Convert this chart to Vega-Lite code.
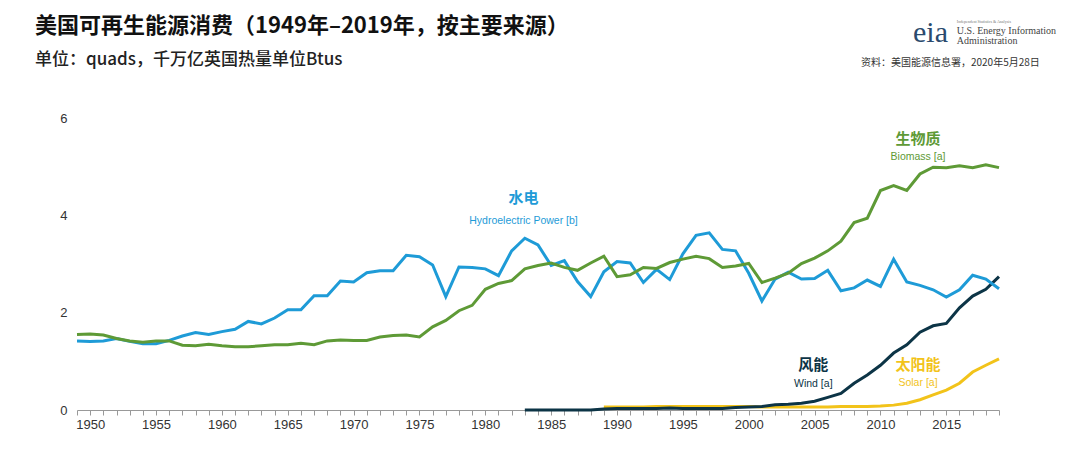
{
  "$schema": "https://vega.github.io/schema/vega-lite/v6.json",
  "width": 922,
  "height": 292,
  "autosize": {"type": "none"},
  "padding": {"left": 77, "top": 118, "right": 81, "bottom": 56},
  "background": "white",
  "config": {"view": {"stroke": null}},
  "title": {
    "text": "美国可再生能源消费（1949年–2019年，按主要来源）",
    "subtitle": "单位：quads，千万亿英国热量单位Btus",
    "anchor": "start",
    "frame": "group",
    "dx": -42,
    "offset": -51,
    "font": "Noto Sans CJK SC",
    "fontSize": 22,
    "fontWeight": "bold",
    "color": "#111111",
    "subtitleFont": "Noto Sans CJK SC",
    "subtitleFontSize": 17,
    "subtitleFontWeight": 500,
    "subtitleColor": "#222222",
    "subtitlePadding": 14
  },
  "datasets": {
    "energy": [
      {"year":1949,"hydro":1.42,"biomass":1.55,"wind":null,"solar":null},
      {"year":1950,"hydro":1.41,"biomass":1.56,"wind":null,"solar":null},
      {"year":1951,"hydro":1.42,"biomass":1.54,"wind":null,"solar":null},
      {"year":1952,"hydro":1.47,"biomass":1.47,"wind":null,"solar":null},
      {"year":1953,"hydro":1.41,"biomass":1.42,"wind":null,"solar":null},
      {"year":1954,"hydro":1.36,"biomass":1.39,"wind":null,"solar":null},
      {"year":1955,"hydro":1.36,"biomass":1.42,"wind":null,"solar":null},
      {"year":1956,"hydro":1.43,"biomass":1.42,"wind":null,"solar":null},
      {"year":1957,"hydro":1.52,"biomass":1.33,"wind":null,"solar":null},
      {"year":1958,"hydro":1.59,"biomass":1.32,"wind":null,"solar":null},
      {"year":1959,"hydro":1.55,"biomass":1.35,"wind":null,"solar":null},
      {"year":1960,"hydro":1.61,"biomass":1.32,"wind":null,"solar":null},
      {"year":1961,"hydro":1.66,"biomass":1.30,"wind":null,"solar":null},
      {"year":1962,"hydro":1.82,"biomass":1.30,"wind":null,"solar":null},
      {"year":1963,"hydro":1.77,"biomass":1.32,"wind":null,"solar":null},
      {"year":1964,"hydro":1.89,"biomass":1.34,"wind":null,"solar":null},
      {"year":1965,"hydro":2.06,"biomass":1.34,"wind":null,"solar":null},
      {"year":1966,"hydro":2.06,"biomass":1.37,"wind":null,"solar":null},
      {"year":1967,"hydro":2.35,"biomass":1.34,"wind":null,"solar":null},
      {"year":1968,"hydro":2.35,"biomass":1.42,"wind":null,"solar":null},
      {"year":1969,"hydro":2.65,"biomass":1.44,"wind":null,"solar":null},
      {"year":1970,"hydro":2.63,"biomass":1.43,"wind":null,"solar":null},
      {"year":1971,"hydro":2.82,"biomass":1.43,"wind":null,"solar":null},
      {"year":1972,"hydro":2.86,"biomass":1.50,"wind":null,"solar":null},
      {"year":1973,"hydro":2.86,"biomass":1.53,"wind":null,"solar":null},
      {"year":1974,"hydro":3.18,"biomass":1.54,"wind":null,"solar":null},
      {"year":1975,"hydro":3.15,"biomass":1.50,"wind":null,"solar":null},
      {"year":1976,"hydro":2.98,"biomass":1.71,"wind":null,"solar":null},
      {"year":1977,"hydro":2.33,"biomass":1.84,"wind":null,"solar":null},
      {"year":1978,"hydro":2.94,"biomass":2.04,"wind":null,"solar":null},
      {"year":1979,"hydro":2.93,"biomass":2.15,"wind":null,"solar":null},
      {"year":1980,"hydro":2.90,"biomass":2.48,"wind":null,"solar":null},
      {"year":1981,"hydro":2.76,"biomass":2.60,"wind":null,"solar":null},
      {"year":1982,"hydro":3.27,"biomass":2.66,"wind":null,"solar":null},
      {"year":1983,"hydro":3.53,"biomass":2.90,"wind":0.0,"solar":null},
      {"year":1984,"hydro":3.39,"biomass":2.97,"wind":0.0,"solar":null},
      {"year":1985,"hydro":2.97,"biomass":3.02,"wind":0.0,"solar":null},
      {"year":1986,"hydro":3.07,"biomass":2.93,"wind":0.0,"solar":null},
      {"year":1987,"hydro":2.64,"biomass":2.87,"wind":0.0,"solar":null},
      {"year":1988,"hydro":2.33,"biomass":3.02,"wind":0.0,"solar":null},
      {"year":1989,"hydro":2.84,"biomass":3.16,"wind":0.02,"solar":0.06},
      {"year":1990,"hydro":3.05,"biomass":2.74,"wind":0.03,"solar":0.06},
      {"year":1991,"hydro":3.02,"biomass":2.78,"wind":0.03,"solar":0.06},
      {"year":1992,"hydro":2.62,"biomass":2.93,"wind":0.03,"solar":0.06},
      {"year":1993,"hydro":2.89,"biomass":2.91,"wind":0.03,"solar":0.07},
      {"year":1994,"hydro":2.68,"biomass":3.03,"wind":0.04,"solar":0.07},
      {"year":1995,"hydro":3.21,"biomass":3.10,"wind":0.03,"solar":0.07},
      {"year":1996,"hydro":3.59,"biomass":3.16,"wind":0.03,"solar":0.07},
      {"year":1997,"hydro":3.64,"biomass":3.11,"wind":0.03,"solar":0.07},
      {"year":1998,"hydro":3.30,"biomass":2.93,"wind":0.03,"solar":0.07},
      {"year":1999,"hydro":3.27,"biomass":2.96,"wind":0.05,"solar":0.07},
      {"year":2000,"hydro":2.81,"biomass":3.01,"wind":0.06,"solar":0.07},
      {"year":2001,"hydro":2.24,"biomass":2.62,"wind":0.07,"solar":0.06},
      {"year":2002,"hydro":2.69,"biomass":2.71,"wind":0.11,"solar":0.06},
      {"year":2003,"hydro":2.83,"biomass":2.81,"wind":0.12,"solar":0.06},
      {"year":2004,"hydro":2.69,"biomass":3.01,"wind":0.14,"solar":0.06},
      {"year":2005,"hydro":2.70,"biomass":3.12,"wind":0.18,"solar":0.06},
      {"year":2006,"hydro":2.87,"biomass":3.27,"wind":0.26,"solar":0.06},
      {"year":2007,"hydro":2.45,"biomass":3.47,"wind":0.34,"solar":0.07},
      {"year":2008,"hydro":2.51,"biomass":3.85,"wind":0.55,"solar":0.07},
      {"year":2009,"hydro":2.67,"biomass":3.94,"wind":0.72,"solar":0.07},
      {"year":2010,"hydro":2.54,"biomass":4.51,"wind":0.92,"solar":0.08},
      {"year":2011,"hydro":3.10,"biomass":4.61,"wind":1.17,"solar":0.10},
      {"year":2012,"hydro":2.63,"biomass":4.51,"wind":1.34,"solar":0.14},
      {"year":2013,"hydro":2.56,"biomass":4.85,"wind":1.60,"solar":0.21},
      {"year":2014,"hydro":2.47,"biomass":4.99,"wind":1.73,"solar":0.31},
      {"year":2015,"hydro":2.32,"biomass":4.98,"wind":1.78,"solar":0.41},
      {"year":2016,"hydro":2.47,"biomass":5.02,"wind":2.10,"solar":0.55},
      {"year":2017,"hydro":2.77,"biomass":4.98,"wind":2.34,"solar":0.78},
      {"year":2018,"hydro":2.69,"biomass":5.04,"wind":2.48,"solar":0.92},
      {"year":2019,"hydro":2.49,"biomass":4.98,"wind":2.74,"solar":1.05}
    ],
    "labels": [
      {"series":"hydro","year":1982.9,"value":4.36,"name":"水电","sub":"Hydroelectric Power [b]","subValue":3.88},
      {"series":"biomass","year":2012.85,"value":5.57,"name":"生物质","sub":"Biomass [a]","subValue":5.2},
      {"series":"wind","year":2004.9,"value":0.92,"name":"风能","sub":"Wind [a]","subValue":0.53},
      {"series":"solar","year":2012.85,"value":0.92,"name":"太阳能","sub":"Solar [a]","subValue":0.55}
    ]
  },
  "layer": [
    {
      "data": {"name": "energy"},
      "mark": {"type": "line", "color": "#f2c31a", "strokeWidth": 3},
      "encoding": {
        "x": {
          "field": "year", "type": "quantitative",
          "scale": {"domain": [1949, 2019], "nice": false, "zero": false},
          "axis": {
            "title": null,
            "grid": false,
            "values": [1949,1950,1951,1952,1953,1954,1955,1956,1957,1958,1959,1960,1961,1962,1963,1964,1965,1966,1967,1968,1969,1970,1971,1972,1973,1974,1975,1976,1977,1978,1979,1980,1981,1982,1983,1984,1985,1986,1987,1988,1989,1990,1991,1992,1993,1994,1995,1996,1997,1998,1999,2000,2001,2002,2003,2004,2005,2006,2007,2008,2009,2010,2011,2012,2013,2014,2015,2016,2017,2018,2019],
            "tickCount": 200,
            "format": "d",
            "labelExpr": "datum.value % 5 == 0 ? datum.label : ''",
            "labelOverlap": false,
            "labelFlush": false,
            "domainColor": "#999999",
            "tickColor": "#999999",
            "tickSize": 5,
            "labelFont": "Liberation Sans",
            "labelFontSize": 13,
            "labelColor": "#333333",
            "labelPadding": 3
          }
        },
        "y": {
          "field": "solar", "type": "quantitative",
          "scale": {"domain": [0, 6], "nice": false},
          "axis": {
            "title": null,
            "grid": false,
            "domain": false,
            "ticks": false,
            "values": [0, 2, 4, 6],
            "labelFont": "Liberation Sans",
            "labelFontSize": 13,
            "labelColor": "#333333",
            "labelPadding": 10
          }
        }
      }
    },
    {
      "data": {"name": "energy"},
      "mark": {"type": "line", "color": "#0c3446", "strokeWidth": 3},
      "encoding": {
        "x": {"field": "year", "type": "quantitative"},
        "y": {"field": "wind", "type": "quantitative"}
      }
    },
    {
      "data": {"name": "energy"},
      "mark": {"type": "line", "color": "#1e9bd7", "strokeWidth": 3},
      "encoding": {
        "x": {"field": "year", "type": "quantitative"},
        "y": {"field": "hydro", "type": "quantitative"}
      }
    },
    {
      "data": {"name": "energy"},
      "mark": {"type": "line", "color": "#5e9a36", "strokeWidth": 3},
      "encoding": {
        "x": {"field": "year", "type": "quantitative"},
        "y": {"field": "biomass", "type": "quantitative"}
      }
    },
    {
      "data": {"name": "labels"},
      "mark": {"type": "text", "font": "Noto Sans CJK SC", "fontWeight": "bold", "fontSize": 15, "align": "center", "baseline": "middle"},
      "encoding": {
        "x": {"field": "year", "type": "quantitative"},
        "y": {"field": "value", "type": "quantitative"},
        "text": {"field": "name"},
        "color": {
          "field": "series", "type": "nominal", "legend": null,
          "scale": {"domain": ["hydro", "biomass", "wind", "solar"], "range": ["#1e9bd7", "#5e9a36", "#0c3446", "#f2c31a"]}
        }
      }
    },
    {
      "data": {"name": "labels"},
      "mark": {"type": "text", "font": "Liberation Sans", "fontSize": 10.5, "align": "center", "baseline": "middle"},
      "encoding": {
        "x": {"field": "year", "type": "quantitative"},
        "y": {"field": "subValue", "type": "quantitative"},
        "text": {"field": "sub"},
        "color": {"field": "series", "type": "nominal", "legend": null}
      }
    },
    {
      "data": {"values": [{"year": 2022.1, "value": 7.13, "text": "资料：美国能源信息署，2020年5月28日"}]},
      "mark": {"type": "text", "font": "Noto Sans CJK SC", "fontSize": 10, "align": "right", "baseline": "middle", "color": "#333333"},
      "encoding": {
        "x": {"field": "year", "type": "quantitative"},
        "y": {"field": "value", "type": "quantitative"},
        "text": {"field": "text"}
      }
    },
    {
      "data": {"values": [{"year": 2013.8, "value": 7.56, "text": "eia"}]},
      "mark": {"type": "text", "font": "Liberation Serif", "fontSize": 30, "align": "center", "baseline": "alphabetic", "color": "#2a4a6e"},
      "encoding": {
        "x": {"field": "year", "type": "quantitative"},
        "y": {"field": "value", "type": "quantitative"},
        "text": {"field": "text"}
      }
    },
    {
      "data": {"values": [{"year": 2015.8, "value": 7.79, "text": "U.S. Energy Information"}, {"year": 2015.8, "value": 7.58, "text": "Administration"}]},
      "mark": {"type": "text", "font": "Liberation Serif", "fontSize": 10, "align": "left", "baseline": "middle", "color": "#444444"},
      "encoding": {
        "x": {"field": "year", "type": "quantitative"},
        "y": {"field": "value", "type": "quantitative"},
        "text": {"field": "text"}
      }
    },
    {
      "data": {"values": [{"year": 2015.8, "value": 7.97, "text": "Independent Statistics & Analysis"}]},
      "mark": {"type": "text", "font": "Liberation Serif", "fontSize": 4, "align": "left", "baseline": "middle", "color": "#777777"},
      "encoding": {
        "x": {"field": "year", "type": "quantitative"},
        "y": {"field": "value", "type": "quantitative"},
        "text": {"field": "text"}
      }
    }
  ]
}
